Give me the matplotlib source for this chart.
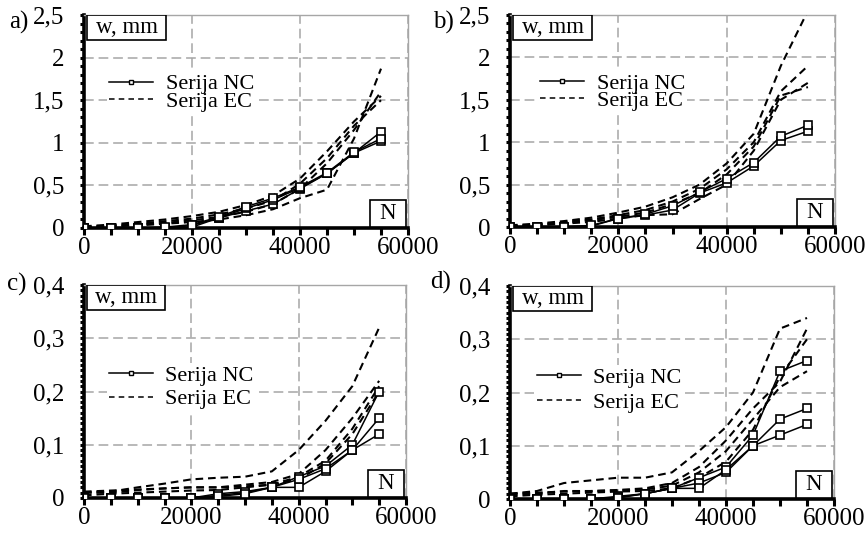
import matplotlib
matplotlib.use("Agg")
import matplotlib.pyplot as plt
from matplotlib.ticker import MultipleLocator, FixedLocator, FuncFormatter
from matplotlib.lines import Line2D
from matplotlib.patches import Rectangle

plt.rcParams["font.family"] = ["Liberation Serif", "DejaVu Serif"]
plt.rcParams["lines.scale_dashes"] = False

# Load levels, N
load = [0, 5000, 10000, 15000, 20000, 25000, 30000, 35000, 40000, 45000, 50000, 55000]

# a) deflection w, mm
nc_a = [
    [0, 0, 0, 0, 0.01, 0.12, 0.20, 0.28, 0.46, 0.64, 0.88, 1.02],
    [0, 0, 0, 0, 0.03, 0.12, 0.23, 0.33, 0.47, 0.64, 0.88, 1.13],
    [0, 0, 0, 0.01, 0.04, 0.13, 0.25, 0.35, 0.48, 0.65, 0.89, 1.05],
]
ec_a = [
    [0.02, 0.04, 0.07, 0.10, 0.14, 0.19, 0.27, 0.38, 0.58, 0.90, 1.25, 1.55],
    [0.01, 0.03, 0.05, 0.08, 0.11, 0.16, 0.23, 0.32, 0.52, 0.82, 1.20, 1.50],
    [0.01, 0.02, 0.04, 0.06, 0.09, 0.13, 0.19, 0.28, 0.46, 0.76, 1.15, 1.60],
    [0.01, 0.02, 0.03, 0.05, 0.07, 0.10, 0.15, 0.22, 0.35, 0.45, 1.05, 1.87],
]

# b)
nc_b = [
    [0, 0, 0, 0.01, 0.10, 0.14, 0.20, 0.40, 0.52, 0.72, 1.02, 1.13],
    [0, 0, 0, 0.02, 0.10, 0.15, 0.25, 0.41, 0.57, 0.76, 1.07, 1.20],
]
ec_b = [
    [0.02, 0.04, 0.07, 0.11, 0.17, 0.24, 0.35, 0.50, 0.75, 1.10, 1.90, 2.55],
    [0.01, 0.03, 0.06, 0.09, 0.14, 0.20, 0.30, 0.45, 0.68, 1.00, 1.60, 1.90],
    [0.01, 0.02, 0.05, 0.08, 0.12, 0.17, 0.27, 0.40, 0.62, 0.95, 1.55, 1.65],
    [0.01, 0.02, 0.04, 0.06, 0.10, 0.14, 0.15, 0.33, 0.50, 0.90, 1.50, 1.70],
]

# c)
nc_c = [
    [0, 0, 0, 0, 0, 0.005, 0.010, 0.020, 0.040, 0.060, 0.100, 0.200],
    [0, 0, 0, 0, 0, 0.008, 0.012, 0.020, 0.020, 0.050, 0.090, 0.150],
    [0, 0, 0, 0, 0, 0.003, 0.008, 0.020, 0.035, 0.055, 0.090, 0.120],
]
ec_c = [
    [0.010, 0.012, 0.020, 0.027, 0.035, 0.038, 0.040, 0.050, 0.090, 0.145, 0.210, 0.320],
    [0.010, 0.010, 0.015, 0.018, 0.020, 0.020, 0.025, 0.030, 0.045, 0.090, 0.150, 0.220],
    [0.005, 0.008, 0.010, 0.012, 0.014, 0.015, 0.020, 0.025, 0.040, 0.070, 0.130, 0.210],
    [0.012, 0.014, 0.016, 0.018, 0.020, 0.020, 0.022, 0.025, 0.035, 0.065, 0.120, 0.200],
]

# d)
nc_d = [
    [0, 0, 0, 0, 0.005, 0.010, 0.020, 0.040, 0.060, 0.120, 0.240, 0.260],
    [0, 0, 0, 0, 0.003, 0.010, 0.020, 0.030, 0.050, 0.100, 0.150, 0.170],
    [0, 0, 0, 0, 0.002, 0.010, 0.020, 0.020, 0.055, 0.100, 0.120, 0.140],
]
ec_d = [
    [0.010, 0.015, 0.030, 0.035, 0.040, 0.040, 0.050, 0.090, 0.135, 0.200, 0.320, 0.340],
    [0.008, 0.010, 0.015, 0.015, 0.017, 0.020, 0.030, 0.060, 0.110, 0.170, 0.220, 0.320],
    [0.010, 0.012, 0.014, 0.015, 0.016, 0.018, 0.025, 0.050, 0.090, 0.150, 0.210, 0.240],
    [0.005, 0.008, 0.010, 0.012, 0.014, 0.015, 0.020, 0.040, 0.070, 0.130, 0.230, 0.300],
]

x_ticks = [0, 20000, 40000, 60000]
label_nc = "Serija NC"
label_ec = "Serija EC"
label_w = "w, mm"
label_n = "N"

W, H = 867, 538
fig = plt.figure(figsize=(W / 100, H / 100), dpi=100)


def axes_px(left, top, right, bottom):
    return fig.add_axes([left / W, 1 - bottom / H, (right - left) / W, (bottom - top) / H])


GRID = "#a6a6a6"
TICK_FS = 18
TEXT_FS = 16

panels = [
    dict(tag="a)", tag_xy=(9, 22), rect=(84, 15, 408, 228), nc=nc_a, ec=ec_a,
         ymax=2.5, major=0.5, minor=0.1, leg=(0.07, 0.635), lsp=-0.15),
    dict(tag="b)", tag_xy=(433, 22), rect=(510, 15, 835, 227), nc=nc_b, ec=ec_b,
         ymax=2.5, major=0.5, minor=0.1, leg=(0.085, 0.635), lsp=-0.15),
    dict(tag="c)", tag_xy=(7, 284), rect=(84, 285, 406, 498), nc=nc_c, ec=ec_c,
         ymax=0.4, major=0.1, minor=0.01, leg=(0.07, 0.52), lsp=0.15),
    dict(tag="d)", tag_xy=(430, 282), rect=(510, 286, 834, 499), nc=nc_d, ec=ec_d,
         ymax=0.4, major=0.1, minor=0.01, leg=(0.075, 0.51), lsp=0.2),
]

comma = FuncFormatter(lambda v, p: f"{v:g}".replace(".", ","))

for p in panels:
    ax = axes_px(*p["rect"])
    for ys in p["ec"]:
        ax.plot(load, ys, color="black", lw=1.5, ls=(0, (5.5, 3.5)), zorder=3)
    for ys in p["nc"]:
        ax.plot(load, ys, color="black", lw=1.1, marker="s", ms=5.5,
                mfc="white", mec="black", mew=1.2, zorder=4)

    ax.set_xlim(0, 60000)
    ax.set_ylim(0, p["ymax"])
    ax.xaxis.set_major_locator(FixedLocator(x_ticks))
    ax.xaxis.set_minor_locator(MultipleLocator(5000))
    ax.yaxis.set_major_locator(MultipleLocator(p["major"]))
    ax.yaxis.set_minor_locator(MultipleLocator(p["minor"]))
    ax.yaxis.set_major_formatter(comma)
    ax.xaxis.set_major_formatter(FuncFormatter(lambda v, q: f"{v:.0f}"))

    ax.grid(True, which="major", color=GRID, lw=1.1, ls=(0, (7, 3.5)))
    ax.set_axisbelow(True)

    for s in ("top", "right"):
        ax.spines[s].set_color(GRID)
        ax.spines[s].set_linewidth(1.0)
    for s in ("left", "bottom"):
        ax.spines[s].set_color("black")
        ax.spines[s].set_linewidth(2.6)

    ax.tick_params(axis="y", which="both", direction="out", length=3, width=2.2,
                   color="black", labelsize=TICK_FS, pad=11)
    ax.tick_params(axis="x", which="both", direction="out", length=5, width=2.2,
                   color="black", labelsize=TICK_FS, pad=1.5)

    # axis caption boxes
    ax.add_patch(Rectangle((0.01, 0.883), 0.243, 0.117, transform=ax.transAxes,
                           facecolor="white", edgecolor="black", lw=1.2, zorder=6))
    ax.text(0.01 + 0.243 / 2, 0.883 + 0.117 / 2, label_w, transform=ax.transAxes,
            ha="center", va="center", fontsize=TEXT_FS + 0.5, zorder=7)
    ax.add_patch(Rectangle((0.882, 0.006), 0.112, 0.124, transform=ax.transAxes,
                           facecolor="white", edgecolor="black", lw=1.2, zorder=6))
    ax.text(0.882 + 0.112 / 2, 0.006 + 0.124 / 2, label_n, transform=ax.transAxes,
            ha="center", va="center", fontsize=TEXT_FS + 0.5, zorder=7)

    handles = [
        Line2D([], [], color="black", lw=1.1, marker="s", ms=3.5, mfc="white",
               mec="black", mew=1.0),
        Line2D([], [], color="black", lw=1.1, ls=(0, (4, 3))),
    ]
    ax.legend(handles, [label_nc, label_ec], loc="center left",
              bbox_to_anchor=p["leg"], frameon=True, framealpha=1,
              facecolor="white", edgecolor="none", fancybox=False,
              fontsize=TEXT_FS, handlelength=2.0, handletextpad=0.55,
              labelspacing=p["lsp"], borderpad=0.1, borderaxespad=0)

    fig.text(p["tag_xy"][0] / W, 1 - p["tag_xy"][1] / H, p["tag"],
             fontsize=TICK_FS, ha="left", va="center")

fig.savefig("out.png", dpi=100)
